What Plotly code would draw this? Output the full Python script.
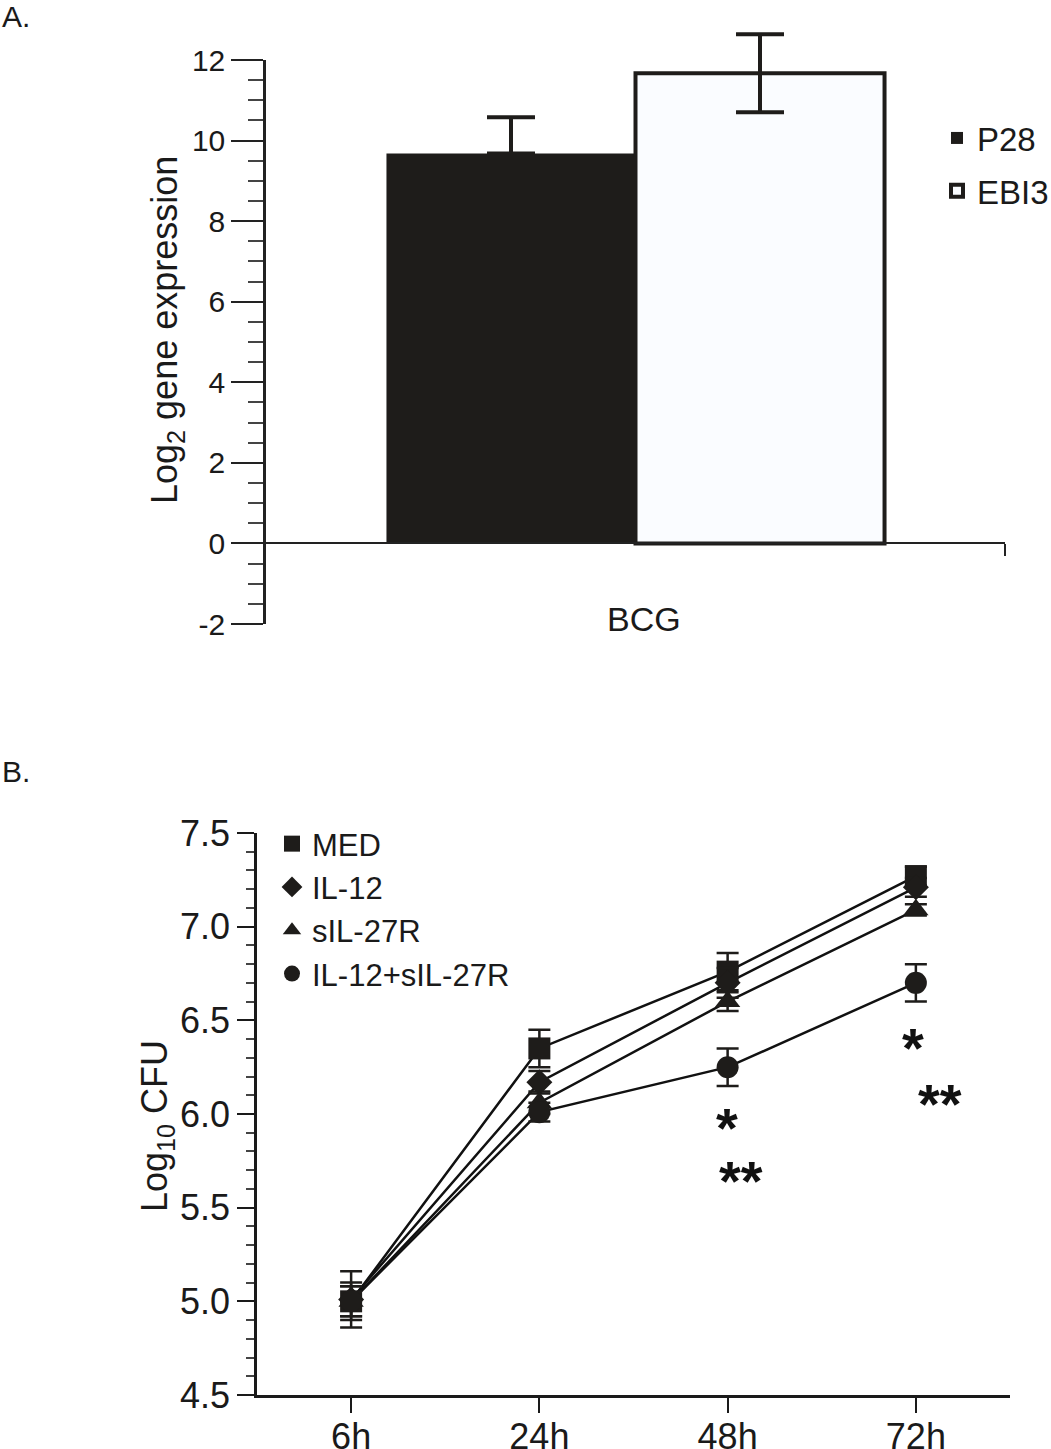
import plotly.graph_objects as go

# ---------------- data ----------------
# Panel A
genes = ["P28", "EBI3"]
gene_expr = [9.68, 11.67]
gene_err_plus = [0.90, 0.97]
gene_err_minus = [0.0, 0.97]
bar_category = "BCG"
a_ticks = [-2, 0, 2, 4, 6, 8, 10, 12]
a_ticktext = ["-2", "0", "2", "4", "6", "8", "10", "12"]

# Panel B
timepoints = ["6h", "24h", "48h", "72h"]
series_names = ["MED", "IL-12", "sIL-27R", "IL-12+sIL-27R"]
med = [5.00, 6.35, 6.76, 7.27]
med_err = [0.10, 0.10, 0.10, 0.05]
il12 = [5.01, 6.17, 6.70, 7.21]
il12_err = [0.15, 0.06, 0.08, 0.05]
sil27r = [5.00, 6.06, 6.60, 7.09]
sil27r_err = [0.08, 0.06, 0.05, 0.03]
combo = [5.00, 6.01, 6.25, 6.70]
combo_err = [0.08, 0.05, 0.10, 0.10]

W, H = 1051, 1449
FONT = "Liberation Sans, Arial, sans-serif"
INK = "#1e1c1a"
TXT = "#1a1a1a"


def fx(px):
    return px / W


def fy(py):
    return 1 - py / H


fig = go.Figure()

# ---------- Panel A bars (data axis y, display axis y3) ----------
fig.add_trace(go.Bar(
    x=[0], y=[gene_expr[0]], name=genes[0], legendgroup="g1",
    marker=dict(color=INK, line=dict(width=0)),
    error_y=dict(type="data", symmetric=False, array=[gene_err_plus[0]],
                 arrayminus=[gene_err_minus[0]], color=INK, thickness=4, width=24),
    xaxis="x", yaxis="y", legend="legend",
))
fig.add_trace(go.Bar(
    x=[0], y=[gene_expr[1]], name=genes[1], legendgroup="g2",
    marker=dict(color="#fafcff", line=dict(width=4, color=INK)),
    error_y=dict(type="data", symmetric=False, array=[gene_err_plus[1]],
                 arrayminus=[gene_err_minus[1]], color=INK, thickness=4, width=24),
    xaxis="x", yaxis="y", legend="legend",
))
# empty trace that registers the display axis (y3) so that it is drawn
fig.add_trace(go.Scatter(x=[], y=[], xaxis="x", yaxis="y3", showlegend=False,
                         hoverinfo="skip", mode="markers"))

# ---------- Panel B ----------
symbols = ["square", "diamond", "triangle-up", "circle"]
sizes = [22, 20, 22, 22]
vals = [med, il12, sil27r, combo]
errs = [med_err, il12_err, sil27r_err, combo_err]
for name, v in zip(series_names, vals):
    fig.add_trace(go.Scatter(
        x=timepoints, y=v, name=name, mode="lines", showlegend=False,
        line=dict(color="#111111", width=2.5), hoverinfo="skip",
        xaxis="x2", yaxis="y2",
    ))
for name, sym, sz, v, e in zip(series_names, symbols, sizes, vals, errs):
    fig.add_trace(go.Scatter(
        x=timepoints, y=v, name=name, mode="markers",
        marker=dict(symbol=sym, size=sz, color=INK),
        error_y=dict(type="data", array=e, color=INK, thickness=2.5, width=11),
        cliponaxis=False, xaxis="x2", yaxis="y2", legend="legend2",
    ))

# scale for panel A: 12 -> px 60, -2 -> px 624
A_TOP_PX, A_BOT_PX = 60, 624
px_per_unit = (A_BOT_PX - A_TOP_PX) / 14.0
A_DATA_TOP = 12.8
a_data_top_px = A_TOP_PX - (A_DATA_TOP - 12) * px_per_unit

fig.update_layout(
    width=W, height=H,
    margin=dict(l=0, r=0, t=0, b=0, autoexpand=False),
    paper_bgcolor="white", plot_bgcolor="rgba(0,0,0,0)",
    font=dict(family=FONT, color=TXT),
    barmode="group", bargap=0.326, bargroupgap=0,
    xaxis=dict(
        domain=[fx(266), fx(1005)], range=[-0.5, 0.5],
        anchor="free", position=fy(543), automargin=False,
        showline=True, linewidth=2, linecolor="#222222",
        tickmode="array", tickvals=[0.5], ticktext=[""],
        ticks="outside", ticklen=12, tickwidth=1.5, tickcolor="#222222",
        showgrid=False, zeroline=False, fixedrange=True,
    ),
    # data axis for the bars (extends above 12 so error bars are not clipped)
    yaxis=dict(
        domain=[fy(A_BOT_PX), fy(a_data_top_px)], range=[-2, A_DATA_TOP],
        anchor="x", visible=False, automargin=False,
        showgrid=False, zeroline=False,
    ),
    # display axis: line, ticks and labels from -2 to 12
    yaxis3=dict(
        domain=[fy(A_BOT_PX), fy(A_TOP_PX)], range=[-2, 12],
        anchor="x", side="left", automargin=False,
        tickmode="array", tickvals=a_ticks, ticktext=a_ticktext,
        ticks="outside", ticklen=32, tickwidth=2, tickcolor="#222222",
        showline=True, linewidth=2.5, linecolor="#222222",
        minor=dict(tickmode="linear", tick0=0, dtick=0.5, ticks="outside",
                   ticklen=15, tickwidth=1.5, tickcolor="#444444"),
        showgrid=False, zeroline=False,
        tickfont=dict(family=FONT, size=30, color=TXT),
    ),
    xaxis2=dict(
        domain=[fx(257), fx(1010)], range=[-0.5, 3.5], anchor="y2",
        type="category", automargin=False,
        showline=True, linewidth=3, linecolor=TXT,
        ticks="outside", ticklen=15, tickwidth=2, tickcolor=TXT,
        ticklabelstandoff=-7,
        showgrid=False, zeroline=False,
        tickfont=dict(family=FONT, size=36, color=TXT),
    ),
    yaxis2=dict(
        domain=[fy(1395), fy(833)], range=[4.5, 7.5], anchor="x2",
        tick0=4.5, dtick=0.5, tickformat=".1f", automargin=False,
        ticks="outside", ticklen=17, tickwidth=2, tickcolor=TXT,
        showline=True, linewidth=2.5, linecolor=TXT,
        minor=dict(dtick=0.1, ticks="outside", ticklen=8, tickwidth=1.5,
                   tickcolor="#444444"),
        showgrid=False, zeroline=False,
        tickfont=dict(family=FONT, size=36, color=TXT),
    ),
    legend=dict(
        x=fx(937), y=fy(110), xanchor="left", yanchor="top",
        font=dict(family=FONT, size=33, color=TXT),
        bgcolor="rgba(0,0,0,0)", tracegroupgap=7, traceorder="grouped",
        itemwidth=30,
    ),
    legend2=dict(
        x=fx(272), y=fy(817), xanchor="left", yanchor="top",
        font=dict(family=FONT, size=31, color=TXT),
        bgcolor="rgba(0,0,0,0)", tracegroupgap=0, traceorder="normal",
        itemwidth=30,
    ),
    showlegend=True,
)

annotations = [
    dict(text="A.", x=fx(0), y=fy(17), xref="paper", yref="paper",
         xanchor="left", yanchor="middle", showarrow=False,
         font=dict(family=FONT, size=30, color=TXT)),
    dict(text="B.", x=fx(0), y=fy(771), xref="paper", yref="paper",
         xanchor="left", yanchor="middle", showarrow=False,
         font=dict(family=FONT, size=30, color=TXT)),
    dict(text=bar_category, x=fx(644), y=fy(619), xref="paper", yref="paper",
         xanchor="center", yanchor="middle", showarrow=False,
         font=dict(family=FONT, size=34, color=TXT)),
    dict(text="Log<sub>2</sub> gene expression", x=fx(167), y=fy(330),
         xref="paper", yref="paper", textangle=-90, showarrow=False,
         xanchor="center", yanchor="middle",
         font=dict(family=FONT, size=36, color=TXT)),
    dict(text="Log<sub>10</sub> CFU", x=fx(157), y=fy(1126),
         xref="paper", yref="paper", textangle=-90, showarrow=False,
         xanchor="center", yanchor="middle",
         font=dict(family=FONT, size=36, color=TXT)),
]

# significance marks (panel B)
star_font = dict(family=FONT, size=56, color="#111111")
for txt, xv, yv in [("*", 1.997, 5.93), ("**", 2.07, 5.65),
                    ("*", 2.985, 6.36), ("**", 3.13, 6.06)]:
    annotations.append(dict(text="<b>%s</b>" % txt, x=xv, y=yv, xref="x2", yref="y2",
                            showarrow=False, xanchor="center", yanchor="middle",
                            height=46, valign="middle", font=star_font))

fig.update_layout(annotations=annotations)

fig.write_html("out.html", config={"displayModeBar": False},
               post_script="document.body.style.margin='0';document.body.style.overflow='hidden';")
